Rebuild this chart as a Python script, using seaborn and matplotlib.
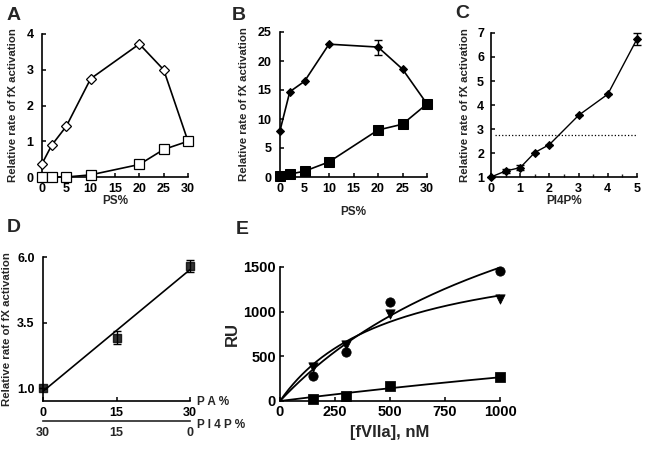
import numpy as np
import seaborn as sns
import matplotlib
matplotlib.use('Agg')
import matplotlib.pyplot as plt
from matplotlib.ticker import MultipleLocator

sns.set_style('ticks')
plt.rcParams['font.family'] = ['Liberation Sans', 'DejaVu Sans']
plt.rcParams['font.weight'] = 'bold'
plt.rcParams['axes.labelweight'] = 'bold'

# Panel A
ps_a = [0, 2, 5, 10, 20, 25, 30]
a_open_diamond = [0.37, 0.89, 1.42, 2.75, 3.72, 3.0, 1.0]
a_open_square = [0.0, 0.0, 0.0, 0.06, 0.35, 0.77, 1.0]

# Panel B
ps_b = [0, 2, 5, 10, 20, 25, 30]
b_diamond = [8.0, 14.7, 16.5, 22.9, 22.4, 18.6, 12.6]
b_diamond_err = [0, 0, 0, 0, 1.3, 0, 0]
b_square = [0.2, 0.5, 1.0, 2.6, 8.1, 9.1, 12.6]

# Panel C
pi4p = [0, 0.5, 1, 1.5, 2, 3, 4, 5]
c_rate = [1.0, 1.25, 1.39, 2.02, 2.35, 3.57, 4.45, 6.75]
c_err = [0, 0.1, 0.1, 0, 0, 0, 0, 0.26]
c_threshold = 2.76

# Panel D
pa_pct = [0, 15, 30]
d_rate = [1.05, 2.94, 5.66]
d_err = [0, 0.25, 0.22]

# Panel E
fviia = [150, 300, 500, 1000]
ru_circle = [279, 551, 1109, 1452]
ru_triangle = [376, 625, 979, 1146]
ru_square = [22, 60, 171, 264]

W, H = 645, 450
fig = plt.figure(figsize=(W / 100, H / 100), dpi=100)


def px_axes(x0, x1, ytop, ybot):
    return fig.add_axes([x0 / W, 1 - ybot / H, (x1 - x0) / W, (ybot - ytop) / H])


def style(ax, size=9):
    sns.despine(ax=ax)
    for s in ['left', 'bottom']:
        ax.spines[s].set_linewidth(1.2)
        ax.spines[s].set_color('black')
    ax.tick_params(direction='in', length=3, width=1.1, labelsize=size,
                   pad=4, colors='black')
    ax.set_facecolor('none')


def hyperbola_fit(x, y):
    # least squares fit of y = bmax * x / (kd + x)
    x = np.asarray(x, float)
    y = np.asarray(y, float)
    best = None
    for kd in np.linspace(20, 6000, 3000):
        f = x / (kd + x)
        bmax = f @ y / (f @ f)
        sse = np.sum((y - bmax * f) ** 2)
        if best is None or sse < best[0]:
            best = (sse, bmax, kd)
    return best[1], best[2]


lab = dict(fontsize=8.2, fontweight='bold')
letter = dict(fontsize=14, fontweight='bold', va='center')

# ---- A ----
ax = px_axes(42, 188, 34, 177)
sns.lineplot(x=ps_a, y=a_open_diamond, ax=ax, color='k', lw=1.2, marker='D',
             markersize=5.5, markerfacecolor='white', markeredgecolor='k',
             markeredgewidth=0.9, clip_on=False, zorder=3)
sns.lineplot(x=ps_a, y=a_open_square, ax=ax, color='k', lw=1.2, marker='s',
             markersize=7.5, markerfacecolor='white', markeredgecolor='k',
             markeredgewidth=0.9, clip_on=False, zorder=4)
ax.set_xlim(0, 30)
ax.set_ylim(0, 4)
ax.xaxis.set_major_locator(MultipleLocator(5))
ax.yaxis.set_major_locator(MultipleLocator(1))
style(ax)
ax.tick_params(axis='y', pad=6)
ax.set_xlabel('PS%', fontsize=8.5, labelpad=0.5)
ax.set_ylabel('Relative rate of fX activation', **lab, labelpad=6)
fig.text(7 / W, 1 - 16 / H, 'A', **letter)

# ---- B ----
ax = px_axes(280, 427, 32, 177)
sns.lineplot(x=ps_b, y=b_diamond, ax=ax, color='k', lw=1.2, marker='D',
             markersize=4.5, markerfacecolor='k', markeredgecolor='k',
             clip_on=False, zorder=3)
ax.errorbar(ps_b[4], b_diamond[4], yerr=b_diamond_err[4], color='k',
            capsize=3, lw=1, capthick=1, fmt='none', zorder=3)
sns.lineplot(x=ps_b, y=b_square, ax=ax, color='k', lw=1.2, marker='s',
             markersize=6.5, markerfacecolor='k', markeredgecolor='k',
             clip_on=False, zorder=4)
ax.set_xlim(0, 30)
ax.set_ylim(0, 25)
ax.xaxis.set_major_locator(MultipleLocator(5))
ax.yaxis.set_major_locator(MultipleLocator(5))
style(ax)
ax.tick_params(axis='y', pad=6)
ax.set_xlabel('PS%', fontsize=8.5, labelpad=8)
ax.set_ylabel('Relative rate of fX activation', **lab, labelpad=6)
fig.text(232 / W, 1 - 15 / H, 'B', **letter)

# ---- C ----
ax = px_axes(491, 637, 33, 177)
ax.axhline(c_threshold, xmin=0.03, xmax=1, color='k', ls=':', lw=0.9)
sns.lineplot(x=pi4p, y=c_rate, ax=ax, color='k', lw=1.0, marker='D',
             markersize=4.5, markerfacecolor='k', markeredgecolor='k',
             clip_on=False, zorder=3)
ax.errorbar(pi4p, c_rate, yerr=c_err, color='k', capsize=3, lw=1,
            capthick=1, fmt='none', zorder=3, clip_on=False)
ax.set_xlim(0, 5)
ax.set_ylim(1, 7)
ax.xaxis.set_major_locator(MultipleLocator(1))
ax.xaxis.set_minor_locator(MultipleLocator(0.5))
ax.yaxis.set_major_locator(MultipleLocator(1))
style(ax)
ax.tick_params(axis='x', which='minor', direction='in', length=2, width=1)
ax.tick_params(axis='y', pad=5)
ax.set_xlabel('PI4P%', fontsize=8.5, labelpad=0)
ax.set_ylabel('Relative rate of fX activation', **lab, labelpad=5)
fig.text(455 / W, 1 - 14 / H, 'C', **letter)

# ---- D ----
ax = px_axes(43, 190, 257, 401)
sns.regplot(x=np.array(pa_pct), y=np.array(d_rate), ax=ax, ci=None,
            color='k', marker='s',
            scatter_kws=dict(s=40, clip_on=False, zorder=4),
            line_kws=dict(lw=1.2))
ax.errorbar(pa_pct, d_rate, yerr=d_err, color='k', capsize=3, lw=1,
            capthick=1, fmt='none', zorder=3, clip_on=False)
ax.set_xlim(0, 30)
ax.set_ylim(0.545, 6.0)
ax.set_xticks([0, 15, 30])
ax.set_yticks([1.0, 3.5, 6.0])
ax.set_yticklabels(['1.0', '3.5', '6.0'])
style(ax)
ax.tick_params(axis='x', pad=4)
ax.tick_params(axis='y', pad=6)
ax.set_xlabel('')
ax.set_ylabel('Relative rate of fX activation', **lab, labelpad=4)
sec = ax.secondary_xaxis(-0.139, functions=(lambda v: 30 - v, lambda v: 30 - v))
sec.set_xticks([30, 15, 0])
sec.spines['bottom'].set_linewidth(1.2)
sec.tick_params(length=0, labelsize=9, pad=4)
ax.text(1.05, -0.01, 'P A %', transform=ax.transAxes, fontsize=8.5,
        fontweight='bold', va='center', ha='left')
ax.text(1.05, -0.165, 'P I 4 P %', transform=ax.transAxes, fontsize=8.5,
        fontweight='bold', va='center', ha='left')
fig.text(7 / W, 1 - 227 / H, 'D', **letter)

# ---- E ----
ax = px_axes(280, 500, 267, 401)
grid = np.linspace(0, 1000, 200)
for xs, ys, mk in [(fviia, ru_circle, 'o'), (fviia, ru_triangle, 'v'),
                   (fviia, ru_square, 's')]:
    bmax, kd = hyperbola_fit(xs, ys)
    sns.lineplot(x=grid, y=bmax * grid / (kd + grid), ax=ax, color='k',
                 lw=1.3)
    sns.scatterplot(x=xs, y=ys, ax=ax, marker=mk, color='k', s=45,
                    edgecolor='k', clip_on=False, zorder=4)
ax.set_xlim(0, 1000)
ax.set_ylim(0, 1500)
ax.set_xticks([0, 250, 500, 750, 1000])
ax.set_yticks([0, 500, 1000, 1500])
style(ax, size=10.5)
ax.tick_params(pad=3)
ax.set_xlabel('[fVIIa], nM', fontsize=12, labelpad=4)
ax.set_ylabel('RU', fontsize=12, labelpad=2)
fig.text(236 / W, 1 - 230 / H, 'E', **letter)

fig.savefig('out.png', dpi=100)
